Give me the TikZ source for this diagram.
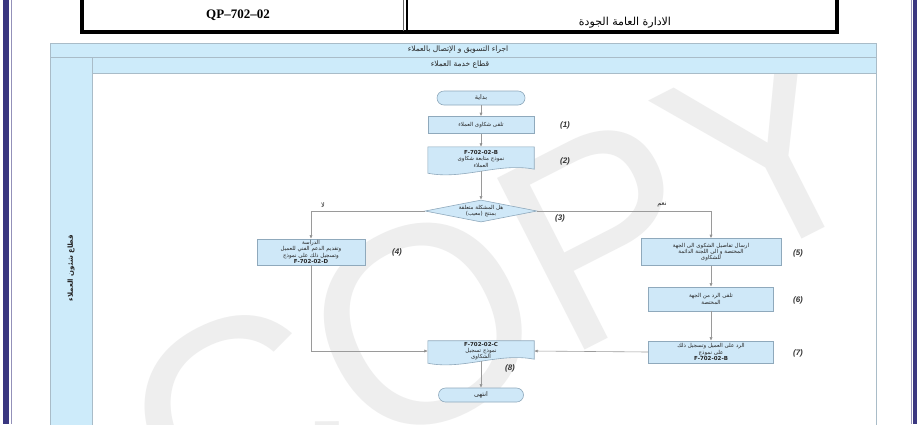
\documentclass[tikz,border=0pt]{standalone}
\usepackage{fontspec}
\setmainfont{Liberation Sans}
\newfontfamily\arabicfont[Script=Arabic]{DejaVu Sans}
\newfontfamily\headserif{Liberation Serif}
\TeXXeTstate=1
\usetikzlibrary{shapes.geometric,arrows.meta,calc}

\newcommand{\AR}[1]{\beginR #1\endR}

\definecolor{navy}{HTML}{3A3780}
\definecolor{bandblue}{HTML}{CDEBFA}
\definecolor{bandline}{HTML}{A9BCC8}
\definecolor{boxfill}{HTML}{CFE8F8}
\definecolor{boxline}{HTML}{8FA9BC}
\definecolor{flow}{HTML}{9A9A9A}
\definecolor{wmgray}{HTML}{EEEEEE}

\pgfdeclarelayer{base}
\pgfdeclarelayer{shapes}
\pgfsetlayers{base,shapes,main}

\tikzset{
  proc/.style={draw=boxline, fill=boxfill, line width=0.6pt, inner sep=1pt,
    align=center, font=\arabicfont\fontsize{5.5}{6.3}\selectfont, text=black!85},
  docbox/.style={draw=none, fill=none, inner sep=1pt, align=center,
    font=\arabicfont\fontsize{5.5}{6.3}\selectfont, text=black!85},
  termbox/.style={proc, rounded corners=7pt, font=\arabicfont\fontsize{6.5}{7}\selectfont},
  decbox/.style={diamond, draw=boxline, fill=boxfill, line width=0.6pt, inner sep=0pt},
  steplabel/.style={font=\bfseries\itshape\fontsize{8}{8}\selectfont, text=black!80},
  flowline/.style={draw=flow, line width=0.6pt, -{Latex[length=3.5pt,width=3.2pt,fill=black!75]}},
  bandtext/.style={font=\arabicfont\fontsize{7.5}{8}\selectfont, text=black!85},
  answer/.style={font=\arabicfont\fontsize{6.5}{7}\selectfont, text=black!85},
}

% document symbol: straight top and sides, wavy bottom edge
\newcommand{\docoutline}[1]{%
  \begin{pgfonlayer}{shapes}
    \path[draw=boxline, fill=boxfill, line width=0.6pt]
      (#1.north west) -- (#1.north east) -- ($(#1.south east)+(0,-2)$)
      .. controls +(-35,-7) and +(35,7) .. ($(#1.south west)+(0,2)$) -- cycle;
  \end{pgfonlayer}}

\begin{document}
\begin{tikzpicture}[x=1pt,y=-1pt]
\useasboundingbox (0,0) rectangle (917,424);

% page, pool and lanes
\begin{pgfonlayer}{base}
  \fill[white] (0,0) rectangle (917,424);
  \fill[bandblue] (50,43) rectangle (876,430);
  \fill[white] (92,73) rectangle (876,430);
  \begin{scope}
    \clip (92,73) rectangle (876,424);
    \node[font=\fontsize{280}{280}\selectfont, text=wmgray, rotate=27] (wmark) at (500,285) {COPY};
  \end{scope}
  \draw[bandline, line width=0.7pt] (50,430) -- (50,43) -- (876,43) -- (876,430);
  \draw[bandline, line width=0.7pt] (50,57) -- (876,57);
  \draw[bandline, line width=0.7pt] (92,73) -- (876,73);
  \draw[bandline, line width=0.7pt] (92,57) -- (92,430);
\end{pgfonlayer}

% page frame
\fill[navy] (3,0) rectangle (9,424);
\draw[navy!55, line width=1pt] (11,0) -- (11,424);
\fill[navy] (913,0) rectangle (917,424);
\draw[navy!55, line width=1pt] (911,0) -- (911,424);

% document header
\draw[line width=3.5pt] (82,-3) -- (82,32) -- (837,32) -- (837,-3);
\draw[line width=2.5pt] (407,-3) -- (407,32);
\draw[line width=0.5pt, black!60] (403,-3) -- (403,31);
\node[font=\headserif\bfseries\fontsize{13}{13}\selectfont] (docno) at (238,15) {QP–702–02};
\node[font=\arabicfont\fontsize{11}{11}\selectfont] (dept) at (625,23) {\AR{الادارة العامة الجودة}};

\node[bandtext] (pooltitle) at (458,50) {\AR{اجراء التسويق و الإتصال بالعملاء}};
\node[bandtext] (lanetitle) at (460,65) {\AR{قطاع خدمة العملاء}};
\node[bandtext, rotate=90, font=\arabicfont\bfseries\fontsize{7}{7}\selectfont] (lanelabel) at (71,268) {\AR{قطاع شئون العملاء}};

% flow nodes
\node[termbox, minimum width=88pt, minimum height=14pt] (start) at (481,98) {\AR{بداية}};
\node[proc, minimum width=106pt, minimum height=17pt] (b1) at (481,125) {\AR{تلقى شكاوى العملاء}};
\node[docbox, minimum width=106pt, minimum height=24pt] (b2) at (481,159)
  {\textbf{F-702-02-B}\\\AR{نموذج متابعة شكاوى}\\\AR{العملاء}};
\docoutline{b2}
\node[decbox, minimum width=112pt, minimum height=22pt] (dec) at (481,211) {};
\node[docbox] (dectext) at (481,211) {\AR{هل المشكلة متعلقة}\\\AR{بمنتج (معيب)}};
\node[proc, minimum width=108pt, minimum height=26pt] (b4) at (311,252)
  {\AR{الدراسة}\\\AR{وتقديم الدعم الفني للعميل}\\\AR{وتسجيل ذلك على نموذج}\\\textbf{F-702-02-D}};
\node[proc, minimum width=140pt, minimum height=27pt] (b5) at (711,252)
  {\AR{ارسال تفاصيل الشكوى الى الجهة}\\\AR{المختصة و الى اللجنة الدائمة}\\\AR{للشكاوى}};
\node[proc, minimum width=125pt, minimum height=24pt] (b6) at (711,299)
  {\AR{تلقى الرد من الجهة}\\\AR{المختصة}};
\node[proc, minimum width=125pt, minimum height=22pt] (b7) at (711,352)
  {\AR{الرد على العميل وتسجيل ذلك}\\\AR{على نموذج}\\\textbf{F-702-02-B}};
\node[docbox, minimum width=106pt, minimum height=20pt] (b8) at (481,351)
  {\textbf{F-702-02-C}\\\AR{نموذج تسجيل}\\\AR{الشكاوى}};
\docoutline{b8}
\node[termbox, minimum width=85pt, minimum height=14pt] (end) at (481,395) {\AR{انتهى}};

% step numbers
\node[steplabel] (s1) at (565,125) {(1)};
\node[steplabel] (s2) at (565,161) {(2)};
\node[steplabel] (s3) at (560,218) {(3)};
\node[steplabel] (s4) at (397,252) {(4)};
\node[steplabel] (s5) at (798,253) {(5)};
\node[steplabel] (s6) at (798,300) {(6)};
\node[steplabel] (s7) at (798,353) {(7)};
\node[steplabel] (s8) at (510,368) {(8)};

% answers
\node[answer] (no) at (323,205) {\AR{لا}};
\node[answer] (yes) at (662,205) {\AR{نعم}};

% connectors
\draw[flowline] (start) -- (b1);
\draw[flowline] (b1) -- (b2);
\draw[flowline] (b2.south) -- (dec.north);
\draw[flowline] (dec.west) -| (b4.north);
\draw[flowline] (dec.east) -| (b5.north);
\draw[flowline] (b5) -- (b6);
\draw[flowline] (b6) -- (b7);
\draw[flowline] (b4.south) |- (b8.west);
\draw[flowline] (b7.west) -- (b8.east);
\draw[flowline] (b8.south) -- (end);
\end{tikzpicture}
\end{document}
